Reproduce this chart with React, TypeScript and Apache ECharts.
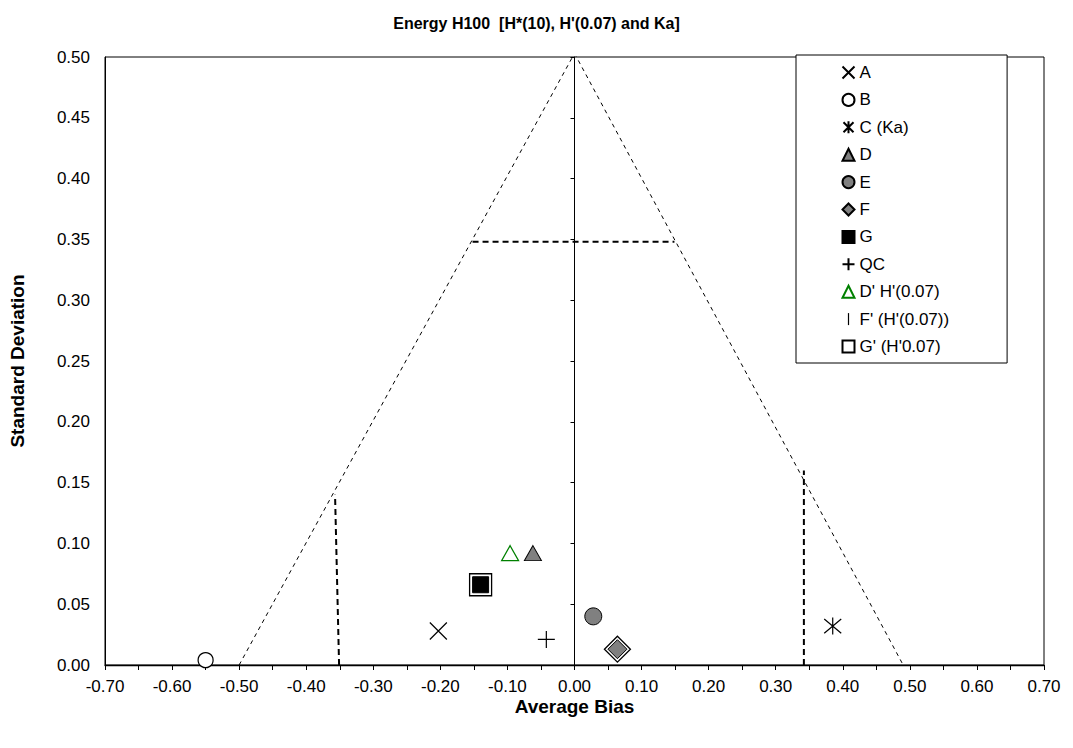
import React, { useEffect, useRef } from "react";
import * as echarts from "echarts";

// ---- data ----
const titleText = "Energy H100  [H*(10), H'(0.07) and Ka]";
const xAxisName = "Average Bias";
const yAxisName = "Standard Deviation";

const seriesNames = [
  "A",
  "B",
  "C (Ka)",
  "D",
  "E",
  "F",
  "G",
  "QC",
  "D' H'(0.07)",
  "F' (H'(0.07))",
  "G' (H'0.07)",
];

const pointsA = [[-0.203, 0.028]];
const pointsB = [[-0.55, 0.004]];
const pointsC = [[0.385, 0.032]];
const pointsD = [[-0.062, 0.092]];
const pointsE = [[0.028, 0.04]];
const pointsF = [[0.064, 0.013]];
const pointsG = [[-0.14, 0.066]];
const pointsQC = [[-0.042, 0.021]];
const pointsDp = [[-0.096, 0.092]];
const pointsFp = [[0.064, 0.013]];
const pointsGp = [[-0.14, 0.066]];

// acceptance limit lines
const outerLeft = [[-0.5, 0], [0, 0.503]];
const outerRight = [[0, 0.503], [0.49, 0]];
const horizLimit = [[-0.152, 0.348], [0.149, 0.348]];
const vertLeft = [[-0.351, 0], [-0.357, 0.14]];
const vertRight = [[0.342, 0], [0.342, 0.16]];

const FONT = "Arial, 'Liberation Sans', sans-serif";

const crossPath = "path://M0,0L10,10M10,0L0,10";
const starPath = "path://M0,0L10,10M10,0L0,10M5,-1L5,11";
const plusPath = "path://M5,0L5,10M0,5L10,5";
const barPath = "path://M0,0L1,0L1,10L0,10Z";

export default function App() {
  const ref = useRef<HTMLDivElement>(null);

  useEffect(() => {
    document.body.style.margin = "0";
    if (!ref.current) return;
    const chart = echarts.init(ref.current, undefined, { renderer: "svg" });

    const lineStroke = { color: "none", borderColor: "#000", borderWidth: 1.2, opacity: 1 };

    const option: any = {
      animation: false,
      backgroundColor: "#fff",
      title: {
        text: titleText,
        left: "center",
        top: 10,
        textStyle: { fontFamily: FONT, fontSize: 16, fontWeight: "bold", color: "#000" },
      },
      grid: {
        left: 101,
        right: 29,
        top: 57,
        bottom: 83,
        show: true,
        borderColor: "#000",
        borderWidth: 1,
        backgroundColor: "#fff",
      },
      legend: {
        data: seriesNames,
        orient: "vertical",
        left: 796,
        top: 55,
        padding: [9, 58, 8, 44],
        itemWidth: 12,
        itemHeight: 12,
        itemGap: 10.4,
        backgroundColor: "#fff",
        borderColor: "#000",
        borderWidth: 1,
        textStyle: { fontFamily: FONT, fontSize: 17, lineHeight: 17, color: "#000" },
        selectedMode: false,
      },
      xAxis: {
        type: "value",
        min: -0.7,
        max: 0.7,
        interval: 0.1,
        name: xAxisName,
        nameLocation: "middle",
        nameGap: 32,
        nameMoveOverlap: false,
        nameTextStyle: { fontFamily: FONT, fontSize: 19, fontWeight: "bold", color: "#000" },
        axisLine: { show: true, onZero: false, lineStyle: { color: "#000", width: 1.3 } },
        axisTick: { show: true, length: 5, lineStyle: { color: "#000" } },
        minorTick: { show: true, splitNumber: 2, length: 5, lineStyle: { color: "#000" } },
        axisLabel: {
          fontFamily: FONT,
          fontSize: 17,
          color: "#000",
          margin: 13,
          formatter: (v: number) => v.toFixed(2),
        },
        splitLine: { show: false },
        minorSplitLine: { show: false },
      },
      yAxis: [
        {
          type: "value",
          min: 0,
          max: 0.5,
          interval: 0.05,
          name: yAxisName,
          nameLocation: "middle",
          nameGap: 78,
          nameTextStyle: { fontFamily: FONT, fontSize: 19, fontWeight: "bold", color: "#000" },
          axisLine: { show: true, onZero: false, lineStyle: { color: "#000", width: 1 } },
          axisTick: { show: false },
          axisLabel: {
            fontFamily: FONT,
            fontSize: 17,
            color: "#000",
            margin: 15,
            formatter: (v: number) => v.toFixed(2),
          },
          splitLine: { show: false },
        },
        {
          type: "value",
          min: 0,
          max: 0.5,
          interval: 0.05,
          position: "left",
          axisLine: { show: true, onZero: true, lineStyle: { color: "#000", width: 1 } },
          axisTick: { show: true, length: 4, lineStyle: { color: "#000" } },
          axisLabel: { show: false },
          splitLine: { show: false },
        },
      ],
      series: [
        // limit lines
        ...[outerLeft, outerRight].map((d) => ({
          type: "line",
          data: d,
          symbol: "none",
          silent: true,
          lineStyle: { color: "#000", width: 1, type: [4, 4] },
          z: 1,
        })),
        ...[horizLimit, vertLeft, vertRight].map((d) => ({
          type: "line",
          data: d,
          symbol: "none",
          silent: true,
          lineStyle: { color: "#000", width: 2, type: [6, 4] },
          z: 1,
        })),
        {
          name: seriesNames[0],
          type: "scatter",
          data: pointsA,
          symbol: crossPath,
          symbolSize: 17,
          itemStyle: lineStroke,
          z: 3,
        },
        {
          name: seriesNames[1],
          type: "scatter",
          data: pointsB,
          symbol: "circle",
          symbolSize: 15,
          itemStyle: { color: "#fff", borderColor: "#000", borderWidth: 1.2, opacity: 1 },
          z: 3,
        },
        {
          name: seriesNames[2],
          type: "scatter",
          data: pointsC,
          symbol: starPath,
          symbolSize: 17,
          itemStyle: lineStroke,
          z: 3,
        },
        {
          name: seriesNames[3],
          type: "scatter",
          data: pointsD,
          symbol: "triangle",
          symbolSize: [17, 15],
          itemStyle: { color: "#808080", borderColor: "#000", borderWidth: 1, opacity: 1 },
          z: 3,
        },
        {
          name: seriesNames[4],
          type: "scatter",
          data: pointsE,
          symbol: "circle",
          symbolSize: 17,
          itemStyle: { color: "#808080", borderColor: "#000", borderWidth: 1, opacity: 1 },
          z: 3,
        },
        {
          name: "F outline",
          type: "scatter",
          data: pointsF,
          symbol: "diamond",
          symbolSize: 26,
          itemStyle: { color: "#fff", borderColor: "#000", borderWidth: 1.3, opacity: 1 },
          z: 3,
        },
        {
          name: seriesNames[9],
          type: "scatter",
          data: pointsFp,
          symbol: barPath,
          symbolKeepAspect: true,
          symbolSize: 12,
          itemStyle: { color: "#000", borderWidth: 0, opacity: 1 },
          z: 2,
        },
        {
          name: seriesNames[5],
          type: "scatter",
          data: pointsF,
          symbol: "diamond",
          symbolSize: 19,
          itemStyle: { color: "#808080", borderColor: "#000", borderWidth: 1, opacity: 1 },
          z: 4,
        },
        {
          name: seriesNames[10],
          type: "scatter",
          data: pointsGp,
          symbol: "rect",
          symbolSize: 22,
          itemStyle: { color: "#fff", borderColor: "#000", borderWidth: 1.3, opacity: 1 },
          z: 3,
        },
        {
          name: seriesNames[6],
          type: "scatter",
          data: pointsG,
          symbol: "rect",
          symbolSize: 16,
          itemStyle: { color: "#000", borderColor: "#000", borderWidth: 1, opacity: 1 },
          z: 4,
        },
        {
          name: seriesNames[7],
          type: "scatter",
          data: pointsQC,
          symbol: plusPath,
          symbolSize: 17,
          itemStyle: lineStroke,
          z: 3,
        },
        {
          name: seriesNames[8],
          type: "scatter",
          data: pointsDp,
          symbol: "triangle",
          symbolSize: [17, 15],
          itemStyle: { color: "#fff", borderColor: "#008000", borderWidth: 1.2, opacity: 1 },
          z: 3,
        },
      ],
    };

    chart.setOption(option);
    return () => chart.dispose();
  }, []);

  return <div ref={ref} style={{ width: 1073, height: 748 }} />;
}
